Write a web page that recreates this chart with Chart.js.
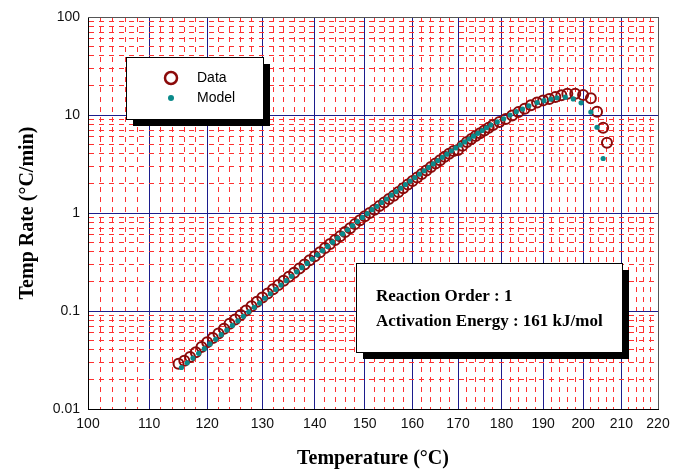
<!DOCTYPE html>
<html>
<head>
<meta charset="utf-8">
<script src="https://cdn.jsdelivr.net/npm/chart.js@4.4.1/dist/chart.umd.min.js"></script>
<style>
  body { margin: 0; background: #fff; }
  #wrap { width: 688px; height: 471px; }
</style>
</head>
<body>
<div id="wrap"><canvas id="rateChart" width="688" height="471"></canvas></div>
<script>
// temperatures in degC, rates in degC/min
var modelTemp = [115.5, 116.5, 117.5, 118.5, 119.5, 120.5, 121.5, 122.5, 123.5, 124.5,
    125.5, 126.5, 127.5, 128.5, 129.5, 130.5, 131.5, 132.5, 133.5, 134.5,
    135.5, 136.5, 137.5, 138.5, 139.5, 140.5, 141.5, 142.5, 143.5, 144.5,
    145.5, 146.5, 147.5, 148.5, 149.5, 150.5, 151.5, 152.5, 153.5, 154.5,
    155.5, 156.5, 157.5, 158.5, 159.5, 160.5, 161.5, 162.5, 163.5, 164.5,
    165.5, 166.5, 167.5, 168.5, 169.5, 170.5, 171.5, 172.5, 173.5, 174.5,
    175.5, 176.5, 177.5, 179, 180.5, 182, 183.5, 185, 186.5, 188.5,
    190.2, 191.9, 193.4, 195.5, 197.5, 199.5, 202, 203.6, 205.2];
var modelRate = [0.0265, 0.0296, 0.0331, 0.0370, 0.0413, 0.0461, 0.0514, 0.0573, 0.0640, 0.0713,
    0.0794, 0.0883, 0.0982, 0.109, 0.121, 0.135, 0.150, 0.166, 0.184, 0.204,
    0.226, 0.251, 0.277, 0.306, 0.339, 0.374, 0.413, 0.456, 0.504, 0.556,
    0.612, 0.675, 0.743, 0.818, 0.902, 0.986, 1.08, 1.17, 1.28, 1.39,
    1.52, 1.65, 1.79, 1.95, 2.11, 2.30, 2.49, 2.70, 2.92, 3.17,
    3.43, 3.70, 3.98, 4.29, 4.61, 4.95, 5.31, 5.69, 6.08, 6.50,
    6.95, 7.41, 7.89, 8.5, 9.16, 10.0, 10.8, 11.5, 12.4, 13.4,
    14.0, 14.5, 15.0, 15.2, 14.6, 13.3, 10.7, 7.5, 3.6];

var dataTemp = [115, 116, 117, 118, 119, 120, 121, 122, 123, 124,
    125, 126, 127, 128, 129, 130, 131, 132, 133, 134,
    135, 136, 137, 138, 139, 140, 141, 142, 143, 144,
    145, 146, 147, 148, 149, 150, 151, 152, 153, 154,
    155, 156, 157, 158, 159, 160, 161, 162, 163, 164,
    165, 166, 167, 168, 169, 170, 171, 172, 173, 174,
    175, 176, 177, 178, 179.5, 181, 182.5, 184, 185.5, 187,
    188.5, 190, 191.5, 193, 194.5, 196, 198, 200, 202, 203.6,
    205.2, 206.2];
var dataRate = [0.029, 0.031, 0.034, 0.038, 0.043, 0.048, 0.053, 0.059, 0.066, 0.074,
    0.082, 0.091, 0.101, 0.112, 0.124, 0.137, 0.151, 0.167, 0.184, 0.203,
    0.224, 0.246, 0.271, 0.298, 0.330, 0.362, 0.398, 0.440, 0.482, 0.530,
    0.580, 0.640, 0.700, 0.770, 0.845, 0.925, 1.00, 1.08, 1.18, 1.28,
    1.39, 1.50, 1.64, 1.79, 1.95, 2.12, 2.30, 2.50, 2.72, 2.95,
    3.20, 3.46, 3.74, 4.02, 4.30, 4.40, 4.85, 5.3, 5.7, 6.1,
    6.5, 6.95, 7.4, 7.9, 8.5, 9.1, 9.9, 10.7, 11.6, 12.6,
    13.4, 14.1, 14.6, 15.3, 15.9, 16.5, 16.5, 16.0, 14.8, 10.8,
    7.4, 5.2];

var xMajorTicks = [100, 110, 120, 130, 140, 150, 160, 170, 180, 190, 200, 210, 220];
var xMinorStep = 2;
var yDecades = [0.01, 0.1, 1, 10, 100];
var yTickLabels = ["0.01", "0.1", "1", "10", "100"];

// x axis is 1/T (Arrhenius), labelled in degC
function invT(t) {
    return -1000 / (t + 273.15);
}

function toPoints(temps, rates) {
    return temps.map(function (t, i) { return { x: invT(t), y: rates[i] }; });
}

var blue = "#1c1c8c";
var red = "#ff3030";
var dataColor = "#8b0a0a";
var modelColor = "#0a8a8a";

var boxes = {
    id: "boxes",
    afterDatasetsDraw: function (chart) {
        var a = chart.chartArea;
        var ctx = chart.ctx;
        ctx.save();
        ctx.lineWidth = 1;
        ctx.strokeStyle = "#555";
        ctx.beginPath();
        ctx.moveTo(a.left, a.top + 0.5);
        ctx.lineTo(a.right + 0.5, a.top + 0.5);
        ctx.lineTo(a.right + 0.5, a.bottom);
        ctx.stroke();
        ctx.restore();
    },
    afterDraw: function (chart) {
        var ctx = chart.ctx;
        ctx.save();
        ctx.textBaseline = "middle";

        // legend box
        ctx.fillStyle = "#000";
        ctx.fillRect(133, 64, 137, 62);
        ctx.fillStyle = "#fff";
        ctx.fillRect(126, 57, 137, 62);
        ctx.strokeStyle = "#000";
        ctx.lineWidth = 1;
        ctx.strokeRect(126.5, 57.5, 137, 62);

        ctx.strokeStyle = dataColor;
        ctx.lineWidth = 2.5;
        ctx.beginPath();
        ctx.arc(171, 78, 6, 0, Math.PI * 2);
        ctx.stroke();
        ctx.fillStyle = modelColor;
        ctx.beginPath();
        ctx.arc(171, 98, 3, 0, Math.PI * 2);
        ctx.fill();

        ctx.fillStyle = "#000";
        ctx.font = '14px "Liberation Sans"';
        ctx.fillText("Data", 197, 78);
        ctx.fillText("Model", 197, 98);

        // annotation box
        ctx.fillStyle = "#000";
        ctx.fillRect(363, 270, 266, 89);
        ctx.fillStyle = "#fff";
        ctx.fillRect(356, 263, 266, 89);
        ctx.strokeStyle = "#000";
        ctx.lineWidth = 1;
        ctx.strokeRect(356.5, 263.5, 266, 89);
        ctx.fillStyle = "#000";
        ctx.font = 'bold 17px "Liberation Serif"';
        ctx.fillText("Reaction Order : 1", 376, 297);
        ctx.fillText("Activation Energy : 161 kJ/mol", 376, 322);
        ctx.restore();
    }
};

new Chart("rateChart", {
    type: "scatter",
    data: {
        datasets: [{
            label: "Model",
            data: toPoints(modelTemp, modelRate),
            pointRadius: 2.6,
            pointBackgroundColor: modelColor,
            pointBorderWidth: 0,
            order: 0
        }, {
            label: "Data",
            data: toPoints(dataTemp, dataRate),
            pointRadius: 5,
            pointBorderWidth: 2,
            pointBorderColor: dataColor,
            pointBackgroundColor: "rgba(0,0,0,0)",
            order: 1
        }]
    },
    options: {
        responsive: false,
        animation: false,
        devicePixelRatio: 1,
        layout: {
            padding: { left: 0, top: 17, right: 30, bottom: 0 }
        },
        plugins: {
            legend: { display: false },
            tooltip: { enabled: false }
        },
        scales: {
            x: {
                type: "linear",
                min: invT(xMajorTicks[0]),
                max: invT(xMajorTicks[xMajorTicks.length - 1]),
                afterBuildTicks: function (axis) {
                    var ticks = [];
                    for (var t = xMajorTicks[0]; t <= xMajorTicks[xMajorTicks.length - 1]; t += xMinorStep) {
                        ticks.push({ value: invT(t), major: xMajorTicks.indexOf(t) >= 0, temp: t });
                    }
                    axis.ticks = ticks;
                },
                afterFit: function (axis) {
                    axis.height = 62;
                },
                ticks: {
                    autoSkip: false,
                    maxRotation: 0,
                    padding: 7,
                    color: "#111",
                    font: { family: "Liberation Sans", size: 14 },
                    callback: function (value, index, ticks) {
                        return ticks[index].major ? String(ticks[index].temp) : "";
                    }
                },
                grid: {
                    drawTicks: false,
                    lineWidth: 1,
                    color: function (c) { return c.tick && c.tick.major ? blue : red; }
                },
                border: {
                    color: "#000",
                    width: 1,
                    dash: function (c) { return c.tick && !c.tick.major ? [5, 5] : []; }
                },
                title: {
                    display: true,
                    text: "Temperature (°C)",
                    color: "#000",
                    font: { family: "Liberation Serif", size: 20, weight: "bold" },
                    padding: { top: 3, bottom: 0 }
                }
            },
            y: {
                type: "logarithmic",
                min: 0.01,
                max: 100,
                afterBuildTicks: function (axis) {
                    var ticks = [];
                    for (var k = 0; k < yDecades.length - 1; k++) {
                        for (var d = 1; d < 10; d++) {
                            ticks.push({ value: d * yDecades[k], major: d === 1 });
                        }
                    }
                    ticks.push({ value: yDecades[yDecades.length - 1], major: true });
                    axis.ticks = ticks;
                },
                afterFit: function (axis) {
                    axis.width = 88;
                },
                ticks: {
                    autoSkip: false,
                    padding: 8,
                    color: "#111",
                    font: { family: "Liberation Sans", size: 14 },
                    callback: function (value, index, ticks) {
                        return ticks[index].major ? yTickLabels[yDecades.indexOf(ticks[index].value)] : "";
                    }
                },
                grid: {
                    drawTicks: false,
                    lineWidth: 1,
                    color: function (c) { return c.tick && c.tick.major ? blue : red; }
                },
                border: {
                    color: "#000",
                    width: 1,
                    dash: function (c) { return c.tick && !c.tick.major ? [5, 5] : []; }
                },
                title: {
                    display: true,
                    text: "Temp Rate (°C/min)",
                    color: "#000",
                    font: { family: "Liberation Serif", size: 20, weight: "bold" },
                    padding: { top: 16, bottom: 0 }
                }
            }
        }
    },
    plugins: [boxes]
});
</script>
</body>
</html>
